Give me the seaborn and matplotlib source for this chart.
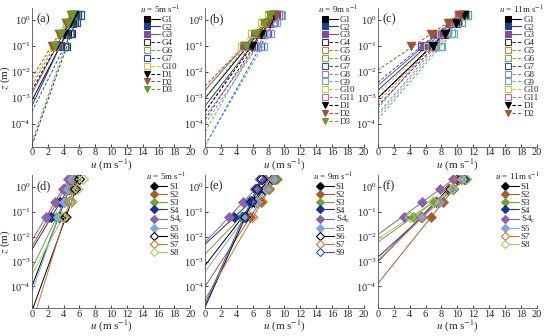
import matplotlib
matplotlib.use("Agg")
import matplotlib.pyplot as plt
import seaborn as sns
from matplotlib.lines import Line2D
from matplotlib.legend_handler import HandlerTuple

# heights of the measurement points (m)
Z_G = [0.1, 0.3, 0.8, 1.6]
Z_S = [0.06, 0.25, 0.8, 2.0]

# (a) u = 5 m/s
A_NAMES = ["G1", "G2", "G3", "G4", "G6", "G7", "G10", "D1", "D2", "D3"]
A_Z0 = [8e-4, 5e-4, 1.5e-3, 1.5e-5, 2e-5, 3e-4, 4e-3, 2e-3, 6e-3, 3e-3]
A_U = [[3.6, 4.4, 5.1, 5.6], [3.5, 4.3, 4.9, 5.4], [3.1, 4.0, 4.7, 5.2],
       [4.4, 5.0, 5.4, 5.8], [4.2, 4.8, 5.3, 5.6], [4.1, 4.9, 5.6, 6.1],
       [2.7, 3.6, 4.4, 5.0], [3.1, 4.0, 4.8, 5.3], [2.5, 3.4, 4.3, 4.9],
       [2.9, 3.7, 4.5, 5.1]]

# (b) u = 9 m/s
B_NAMES = ["G1", "G2", "G3", "G4", "G5", "G6", "G7", "G8", "G9", "G10", "G11",
           "D1", "D2", "D3"]
B_Z0 = [1e-3, 5e-4, 2e-3, 1.5e-4, 3e-4, 5e-5, 1.5e-5, 2e-4, 1.5e-5, 2.5e-3,
        1e-4, 3e-4, 3e-3, 1e-3]
B_U = [[5.4, 6.6, 7.8, 8.6], [5.8, 7.1, 8.1, 8.9], [4.9, 6.3, 7.5, 8.4],
       [6.2, 7.2, 8.1, 8.8], [5.6, 6.7, 7.6, 8.3], [6.2, 7.1, 7.9, 8.5],
       [7.0, 7.9, 8.6, 9.2], [6.6, 7.7, 8.8, 9.5], [7.3, 8.2, 9.0, 9.6],
       [4.6, 5.9, 7.1, 8.0], [6.6, 7.7, 8.6, 9.3], [5.9, 7.0, 8.0, 8.7],
       [5.0, 6.5, 7.9, 8.9], [5.1, 6.3, 7.4, 8.2]]

# (c) u = 11 m/s
C_NAMES = ["G1", "G2", "G3", "G4", "G5", "G6", "G7", "G8", "G9", "G10", "G11",
           "D1", "D2"]
C_Z0 = [1e-3, 2e-3, 3e-3, 5e-4, 7e-4, 1.5e-4, 4e-3, 2.5e-4, 2e-4, 1.5e-3,
        4e-4, 1e-3, 1.2e-2]
C_U = [[6.7, 8.3, 9.8, 10.8], [6.1, 7.9, 9.4, 10.5], [5.8, 7.6, 9.2, 10.3],
       [7.2, 8.6, 10.0, 10.9], [6.8, 8.3, 9.7, 10.6], [7.9, 9.3, 10.5, 11.3],
       [5.5, 7.4, 9.0, 10.2], [7.3, 8.7, 9.9, 10.7], [8.0, 9.5, 10.2, 11.0],
       [6.3, 7.9, 9.4, 10.4], [6.7, 8.1, 9.3, 10.1], [7.0, 8.5, 9.8, 10.9],
       [4.2, 6.7, 8.8, 10.2]]

# (d) u = 5 m/s
D_NAMES = ["S1", "S2", "S3", "S4", "S4c", "S5", "S6", "S7", "S8"]
D_Z0 = [1e-4, 4e-3, 5e-4, 3e-3, 7e-3, 6e-5, 1e-5, 3e-6, 3e-4]
D_U = [[3.4, 4.1, 4.7, 5.2], [2.1, 3.2, 4.1, 4.8], [3.1, 4.0, 4.8, 5.4],
       [2.4, 3.6, 4.6, 5.3], [1.8, 2.9, 3.9, 4.6], [3.3, 4.0, 4.6, 5.0],
       [4.3, 5.0, 5.5, 6.0], [4.1, 4.7, 5.2, 5.6], [3.9, 5.0, 5.8, 6.5]]

# (e) u = 9 m/s
E_NAMES = ["S1", "S2", "S3", "S4", "S4c", "S5", "S6", "S7", "S9"]
E_Z0 = [7e-4, 1e-4, 2e-3, 5e-3, 6e-3, 4e-4, 1.5e-5, 3e-5, 2e-5]
E_U = [[4.7, 6.2, 7.4, 8.4], [5.7, 7.0, 8.0, 8.8], [4.5, 6.4, 7.9, 9.1],
       [3.6, 5.7, 7.5, 8.8], [3.0, 4.8, 6.3, 7.5], [5.1, 6.5, 7.7, 8.6],
       [5.1, 5.9, 6.6, 7.2], [6.0, 7.2, 8.1, 8.8], [4.9, 5.7, 6.4, 7.0]]

# (f) u = 11 m/s
F_NAMES = ["S1", "S2", "S3", "S4", "S4c", "S5", "S7", "S8"]
F_Z0 = [1e-3, 1.3e-4, 6e-3, 1.5e-3, 1.2e-2, 1.1e-3, 1e-3, 8e-3]
F_U = [[5.4, 7.3, 8.8, 10.0], [6.7, 8.2, 9.5, 10.5], [4.4, 7.1, 9.3, 11.0],
       [5.5, 7.7, 9.4, 10.8], [3.3, 5.6, 7.8, 9.5], [5.6, 7.7, 9.3, 10.6],
       [5.5, 7.4, 9.0, 10.2], [4.1, 7.0, 9.4, 11.2]]

# marker, colour, filled, line style
STYLE = {
    "G1": ("s", "#000000", True, "-"),
    "G2": ("s", "#1c3f94", True, "-"),
    "G3": ("s", "#7d4f9c", True, "-"),
    "G4": ("s", "#333333", False, "--"),
    "G5": ("s", "#c8803e", False, "--"),
    "G6": ("s", "#72b04a", False, "--"),
    "G7": ("s", "#2a4fb5", False, "--"),
    "G8": ("s", "#8f86b8", False, "--"),
    "G9": ("s", "#66b0d8", False, "--"),
    "G10": ("s", "#d8c23a", False, "--"),
    "G11": ("s", "#b46cb4", False, "--"),
    "D1": ("v", "#000000", True, "--"),
    "D2": ("v", "#a0522d", True, "--"),
    "D3": ("v", "#6b9a2a", True, "--"),
    "S1": ("D", "#000000", True, "-"),
    "S2": ("D", "#a65d2a", True, "-"),
    "S3": ("D", "#6fa532", True, "-"),
    "S4": ("D", "#1f2f8f", True, "-"),
    "S4c": ("D", "#8a63a8", True, "-"),
    "S5": ("D", "#7fa7d9", True, "-"),
    "S6": ("D", "#000000", False, "-"),
    "S7": ("D", "#c8753a", False, "-"),
    "S8": ("D", "#9acd6a", False, "-"),
    "S9": ("D", "#3050c0", False, "-"),
}
LABEL = {"S4c": "S4$_\\mathrm{c}$"}

sns.set_theme(style="ticks")
plt.rcParams["font.family"] = ["Liberation Serif", "DejaVu Serif"]
plt.rcParams["mathtext.fontset"] = "stix"
plt.rcParams["xtick.direction"] = "in"
plt.rcParams["ytick.direction"] = "in"

fig = plt.figure(figsize=(5.5, 3.36), dpi=100)

panels = [
    ("(a)", 5, A_NAMES, A_Z0, A_U, Z_G, [0.058, 0.5625, 0.288, 0.414], 0.68),
    ("(b)", 9, B_NAMES, B_Z0, B_U, Z_G, [0.373, 0.5625, 0.288, 0.414], 0.71),
    ("(c)", 11, C_NAMES, C_Z0, C_U, Z_G, [0.687, 0.5625, 0.289, 0.414], 0.76),
    ("(d)", 5, D_NAMES, D_Z0, D_U, Z_S, [0.058, 0.082, 0.288, 0.397], 0.72),
    ("(e)", 9, E_NAMES, E_Z0, E_U, Z_S, [0.373, 0.082, 0.288, 0.397], 0.68),
    ("(f)", 11, F_NAMES, F_Z0, F_U, Z_S, [0.687, 0.082, 0.289, 0.397], 0.74),
]

for tag, wind, names, z0s, us, zs, pos, lx in panels:
    ax = fig.add_axes(pos)
    handles = []
    for name, z0, u in zip(names, z0s, us):
        m, c, filled, ls = STYLE[name]
        dash = (0, (3, 2)) if ls == "--" else "-"
        sns.lineplot(x=[0, u[-1]], y=[z0, zs[-1]], ax=ax, color=c,
                     linestyle=dash, linewidth=0.7)
        size = 40 if m == "v" else 26
        if filled:
            sns.scatterplot(x=u, y=zs, ax=ax, marker=m, color=c, s=size,
                            edgecolor=c, linewidth=0.5, zorder=3)
        else:
            sns.scatterplot(x=u, y=zs, ax=ax, marker=m, s=size,
                            facecolor="none", edgecolor=c, linewidth=0.9,
                            zorder=3)
        handles.append((
            Line2D([], [], marker=m, ls="none", ms=5 if m == "v" else 4.3,
                   mfc=c if filled else "none", mec=c, mew=0.8),
            Line2D([], [], color=c, ls=dash, lw=0.8),
        ))
    ax.set_yscale("log")
    ax.set_ylim(1.3e-5, 3)
    ax.set_xlim(0, 20)
    ax.set_xticks(range(0, 21, 2))
    ax.set_yticks([1e-4, 1e-3, 1e-2, 1e-1, 1e0])
    ax.minorticks_off()
    ax.tick_params(labelsize=7.5, length=2, width=0.6, pad=1)
    for side in ["top", "right"]:
        ax.spines[side].set_visible(False)
    for side in ["left", "bottom"]:
        ax.spines[side].set_linewidth(0.6)
        ax.spines[side].set_color("#555555")
    ax.set_xlabel("$u$ (m s$^{-1}$)", fontsize=8, labelpad=0)
    if tag in ("(a)", "(d)"):
        ax.set_ylabel("$z$ (m)", fontsize=8)
        ax.yaxis.set_label_coords(-0.125, 0.5)
    else:
        ax.set_ylabel("")
    ax.text(0.03, 0.96, tag, transform=ax.transAxes, fontsize=9,
            va="top", ha="left")
    ax.legend(handles, [LABEL.get(n, n) for n in names],
              handler_map={tuple: HandlerTuple(ndivide=None, pad=0)},
              title=f"$u$ = {wind}m s$^{{-1}}$", loc="upper left",
              bbox_to_anchor=(lx, 1.03), frameon=False, fontsize=6.5,
              title_fontsize=6.5, handlelength=2.0, handletextpad=0.2,
              labelspacing=-0.05, borderpad=0, borderaxespad=0)

fig.savefig("out.png", dpi=100)
